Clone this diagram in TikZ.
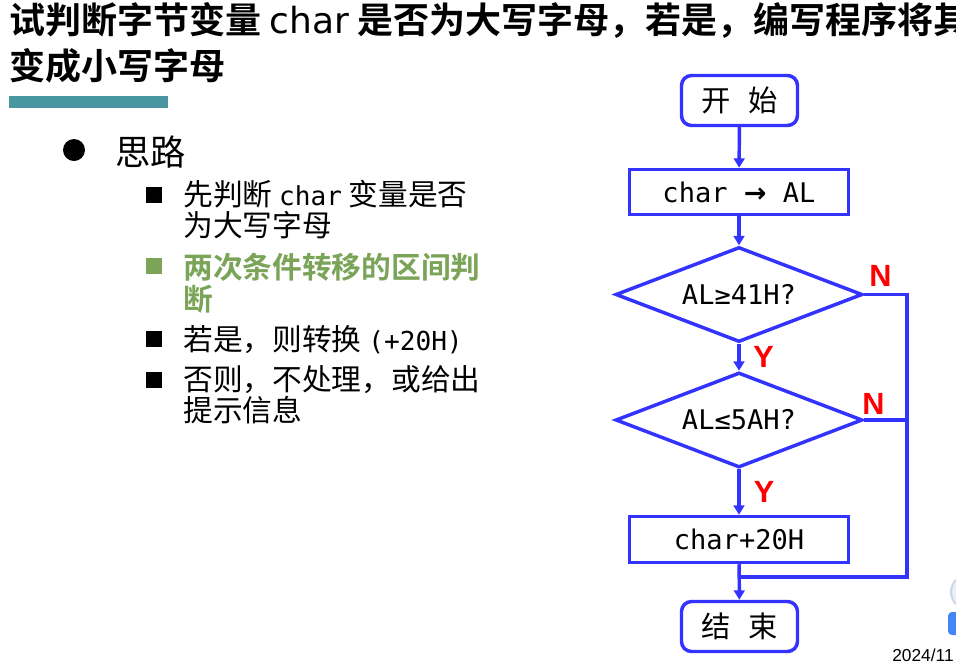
\documentclass[tikz,border=0pt]{standalone}
\usepackage{fontspec}
\usetikzlibrary{arrows.meta,shapes.geometric}

\newfontfamily\cjk{Noto Sans CJK SC}[BoldFont={Noto Sans CJK SC Bold}]
\newfontfamily\latinsans{DejaVu Sans}
\newfontfamily\codefont{DejaVu Sans Mono}
\newfontfamily\labelfont{Liberation Sans}

\definecolor{flowblue}{RGB}{51,51,255}
\definecolor{barteal}{RGB}{72,150,160}
\definecolor{pointgreen}{RGB}{122,164,87}
\definecolor{labelred}{RGB}{255,0,0}
\definecolor{badgeblue}{RGB}{66,133,244}
\definecolor{ringgray}{RGB}{205,212,236}

\begin{document}
\begin{tikzpicture}[x=0.75pt,y=-0.75pt,
  flowline/.style={draw=flowblue,line width=2.6pt},
  arrowline/.style={flowline,-{Triangle[length=7pt,width=8pt]}},
  terminal/.style={flowline,rounded corners=7.5pt,minimum width=87pt,
    minimum height=37.5pt,inner sep=0pt,font=\cjk\fontsize{22}{24}\selectfont},
  process/.style={flowline,minimum width=164.25pt,minimum height=33.75pt,
    inner sep=0pt,font=\codefont\fontsize{20.3}{22}\selectfont},
  decision/.style={flowline,diamond,aspect=3,inner sep=0pt,
    minimum width=185.25pt,minimum height=71.25pt,
    font=\codefont\fontsize{20.3}{22}\selectfont},
  yn/.style={text=labelred,inner sep=0pt,
    font=\labelfont\bfseries\fontsize{23}{24}\selectfont},
  listline/.style={anchor=base west,inner sep=0pt,
    font=\cjk\fontsize{22.3}{24}\selectfont},
  squarebullet/.style={fill=black,minimum size=12pt,inner sep=0pt},
]
\useasboundingbox (0,0) rectangle (956,662);
\clip (0,0) rectangle (956,662);

% heading
\node[anchor=base west,inner sep=0pt] (title1) at (9,33.5)
  {\fontsize{27}{30}\selectfont\cjk\bfseries 试判断字节变量 {\latinsans\mdseries char} 是否为大写字母，若是，编写程序将其};
\node[anchor=base west,inner sep=0pt] (title2) at (9,79.5)
  {\fontsize{27}{30}\selectfont\cjk\bfseries 变成小写字母};
\fill[barteal] (9,96) rectangle (168,108);

% bullet list
\node[circle,fill=black,minimum size=16.5pt,inner sep=0pt] (dot) at (74,150) {};
\node[anchor=base west,inner sep=0pt] (idea) at (115,165)
  {\cjk\fontsize{26.5}{28}\selectfont 思路};

\node[squarebullet] (sq1) at (153.5,194.5) {};
\node[listline] (l1a) at (183,205) {先判断 {\codefont\fontsize{19.6}{22}\selectfont char} 变量是否};
\node[listline] (l1b) at (183,236) {为大写字母};

\node[squarebullet,fill=pointgreen] (sq2) at (153.5,265.5) {};
\node[listline,text=pointgreen,font=\cjk\bfseries\fontsize{22.3}{24}\selectfont] (l2a) at (183,278) {两次条件转移的区间判};
\node[listline,text=pointgreen,font=\cjk\bfseries\fontsize{22.3}{24}\selectfont] (l2b) at (183,310) {断};

\node[squarebullet] (sq3) at (153.5,339) {};
\node[listline] (l3) at (183,350) {若是，则转换 {\codefont\fontsize{19.6}{22}\selectfont(+20H)}};

\node[squarebullet] (sq4) at (153.5,379.5) {};
\node[listline] (l4a) at (183,390) {否则，不处理，或给出};
\node[listline] (l4b) at (183,421) {提示信息};

% flowchart
\node[terminal] (start) at (739.5,100.5) {开\hspace{0.6em}始};
\node[process] (load) at (739,192) {char {\latinsans\bfseries →} AL};
\node[decision] (lower) at (739,294.5) {AL≥41H?};
\node[decision] (upper) at (739,420) {AL≤5AH?};
\node[process,minimum height=34.5pt] (convert) at (739,539.5) {char+20H};
\node[terminal] (finish) at (739.5,626.5) {结\hspace{0.6em}束};

\coordinate (rtop) at (907,294.5);
\coordinate (rmid) at (907,420);
\coordinate (rbot) at (907,577);
\coordinate (join) at (739,577);

\draw[arrowline] (start) -- (load);
\draw[arrowline] (load) -- (lower);
\draw[arrowline] (lower) -- (upper);
\draw[arrowline] (upper) -- (convert);
\draw[arrowline] (convert) -- (finish);
\draw[flowline,line join=miter] (lower.east) -- (rtop) -- (rbot) -- (join);
\draw[flowline] (upper.east) -- (rmid);

\node[yn] (n1) at (880.5,276) {N};
\node[yn] (y1) at (763.5,356.5) {Y};
\node[yn] (n2) at (873.5,404) {N};
\node[yn] (y2) at (764,491.5) {Y};

% corner of the page
\fill[ringgray!40] (968,592) circle (17);
\draw[ringgray,line width=1.5pt] (968,592) circle (17);
\fill[badgeblue,rounded corners=3pt] (948,612) rectangle (976,635);
\node[anchor=base west,inner sep=0pt] (date) at (892,661)
  {\labelfont\fontsize{13}{14}\selectfont 2024/11};
\end{tikzpicture}
\end{document}
